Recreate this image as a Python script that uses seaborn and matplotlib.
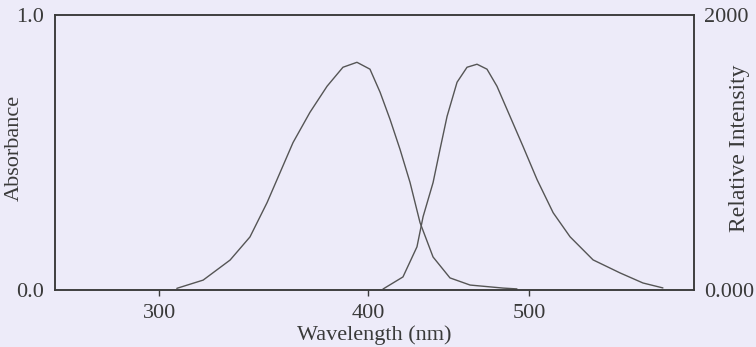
import numpy as np
import matplotlib
matplotlib.use("Agg")
import matplotlib.pyplot as plt
import seaborn as sns

# Absorption spectrum (left axis, absorbance)
abs_wl = [308.5, 321.1, 334.0, 343.5, 351.7, 357.9, 364.1, 372.2, 380.4, 388.0,
          394.7, 401.2, 407.5, 413.7, 419.9, 426.1, 432.3, 440.4, 450.9, 463.4,
          483.9, 492.5]
abs_val = [0.006, 0.036, 0.109, 0.193, 0.318, 0.427, 0.536, 0.646, 0.741, 0.810,
           0.828, 0.803, 0.719, 0.620, 0.511, 0.391, 0.245, 0.120, 0.044, 0.018,
           0.007, 0.004]

# Emission spectrum (right axis, relative intensity)
em_wl = [409.3, 421.7, 430.4, 434.2, 440.4, 444.7, 449.1, 455.3, 461.5, 467.7,
         473.9, 480.1, 488.2, 496.3, 505.0, 515.0, 525.5, 539.8, 556.6, 570.8,
         583.2]
em_val = [7, 95, 314, 533, 781, 1022, 1263, 1511, 1620, 1642,
          1606, 1482, 1263, 1044, 803, 562, 387, 219, 124, 51,
          15]

x_ticks = [300, 400, 500]
x_tick_labels = ["300", "400", "500"]
left_ticks = [0.0, 1.0]
left_tick_labels = ["0.0", "1.0"]
right_ticks = [0, 2000]
right_tick_labels = ["0.000", "2000"]

BG = "#EDEBF9"
INK = "#3a3a3a"
CURVE = "#555555"

sns.set_theme(style="white")
plt.rcParams["font.family"] = ["Liberation Serif", "DejaVu Serif"]

# the scanned axis is not evenly spaced: piecewise-linear mapping
def fwd(x):
    x = np.asarray(x, dtype=float)
    return np.where(x <= 400, 159 + (x - 300) * 2.09, 368 + (x - 400) * 1.61)

def inv(p):
    p = np.asarray(p, dtype=float)
    return np.where(p <= 368, 300 + (p - 159) / 2.09, 400 + (p - 368) / 1.61)

fig = plt.figure(figsize=(7.56, 3.47), dpi=100, facecolor=BG)
ax = fig.add_axes([55 / 756, 1 - 290 / 347, (694 - 55) / 756, (290 - 15) / 347])
ax.set_facecolor(BG)
ax.set_xscale("function", functions=(fwd, inv))
ax2 = ax.twinx()

sns.lineplot(x=abs_wl, y=abs_val, ax=ax, color=CURVE, lw=1.0)
sns.lineplot(x=em_wl, y=em_val, ax=ax2, color=CURVE, lw=1.0)

ax.set_xlim(250.2, 602.5)
ax.set_ylim(0, 1)
ax2.set_ylim(0, 2000)

ax.set_xticks(x_ticks)
ax.set_xticklabels(x_tick_labels)
ax.xaxis.set_minor_locator(matplotlib.ticker.NullLocator())
ax.set_yticks(left_ticks)
ax.set_yticklabels(left_tick_labels)
ax2.set_yticks(right_ticks)
ax2.set_yticklabels(right_tick_labels)

fs = 16
ax.tick_params(axis="x", direction="out", length=4, width=1, color=INK,
               labelsize=fs, labelcolor=INK, pad=6, bottom=True)
ax.tick_params(axis="y", length=0, labelsize=fs, labelcolor=INK, pad=8)
ax2.tick_params(axis="y", length=0, labelsize=fs, labelcolor=INK, pad=7)

for a in (ax, ax2):
    for s in a.spines.values():
        s.set_visible(True)
        s.set_color(INK)
        s.set_linewidth(1.1)

ax.set_xlabel("Wavelength (nm)", fontsize=fs, color=INK, labelpad=2)
ax.set_ylabel("Absorbance", fontsize=fs, color=INK, va="center", ha="center")
ax.yaxis.set_label_coords(-0.064, 0.516)
ax2.set_ylabel("Relative Intensity", fontsize=17, color=INK, rotation=90,
               va="center", ha="center")
ax2.yaxis.set_label_coords(1.071, 0.516)

fig.savefig("out.png", dpi=100, facecolor=BG)
